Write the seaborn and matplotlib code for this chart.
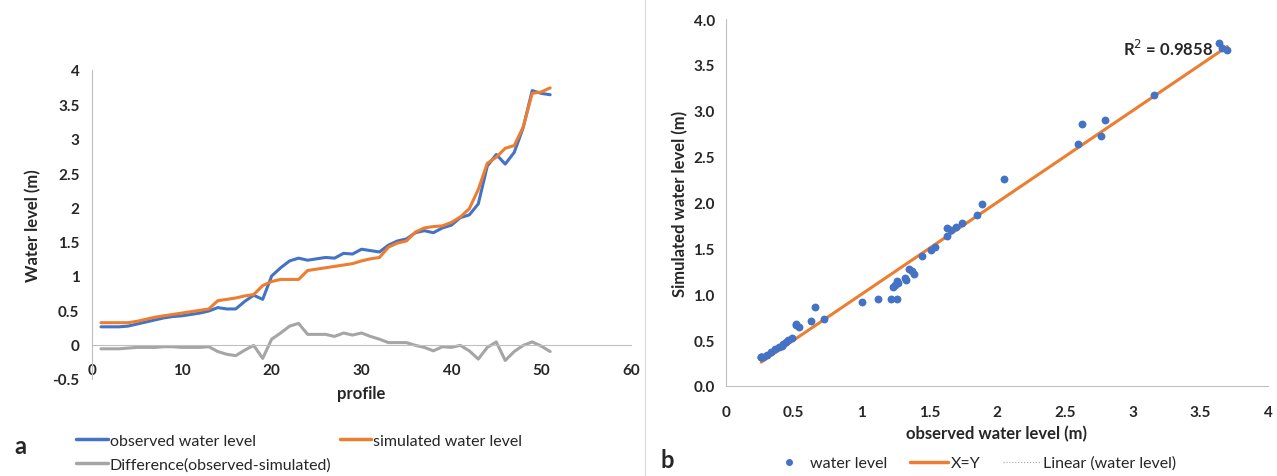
import numpy as np
import pandas as pd
import seaborn as sns
import matplotlib
matplotlib.use("Agg")
import matplotlib.pyplot as plt
from matplotlib.lines import Line2D
from matplotlib.ticker import FuncFormatter, MultipleLocator

# Données (profils 1..51)
profile = list(range(1, 52))
observed = [0.26, 0.26, 0.26, 0.27, 0.30, 0.33, 0.36, 0.39, 0.41, 0.42,
            0.44, 0.46, 0.49, 0.54, 0.52, 0.52, 0.63, 0.72, 0.66, 1.00,
            1.12, 1.22, 1.26, 1.23, 1.25, 1.27, 1.26, 1.33, 1.32, 1.39,
            1.37, 1.35, 1.45, 1.51, 1.54, 1.63, 1.66, 1.63, 1.70, 1.74,
            1.85, 1.89, 2.05, 2.60, 2.77, 2.63, 2.80, 3.16, 3.70, 3.66, 3.64]
simulated = [0.32, 0.32, 0.32, 0.32, 0.34, 0.37, 0.40, 0.42, 0.44, 0.46,
             0.48, 0.50, 0.52, 0.64, 0.66, 0.68, 0.71, 0.73, 0.86, 0.92,
             0.95, 0.95, 0.95, 1.08, 1.10, 1.12, 1.14, 1.16, 1.18, 1.22,
             1.25, 1.27, 1.42, 1.48, 1.51, 1.64, 1.70, 1.72, 1.73, 1.78,
             1.86, 1.98, 2.26, 2.64, 2.73, 2.86, 2.90, 3.17, 3.66, 3.68, 3.74]
r2_label = "R$^2$ = 0.9858"

BLUE = "#4472C4"
ORANGE = "#ED7D31"
GREY = "#A5A5A5"
AXIS = "#BFBFBF"

df = pd.DataFrame({"profile": profile, "observed": observed, "simulated": simulated})
df["difference"] = df["observed"] - df["simulated"]

sns.set_style("white")
plt.rcParams["font.family"] = ["Lato", "DejaVu Sans"]

fig = plt.figure(figsize=(12.77, 4.77), dpi=100)

# ---- panneau a ----
ax1 = fig.add_axes([92 / 1277, 1 - 380 / 477, 539 / 1277, 309 / 477])
sns.lineplot(data=df, x="profile", y="observed", color=BLUE, lw=2.2, ax=ax1)
sns.lineplot(data=df, x="profile", y="simulated", color=ORANGE, lw=2.2, ax=ax1)
sns.lineplot(data=df, x="profile", y="difference", color=GREY, lw=2.2, ax=ax1)
ax1.set_xlim(0, 60)
ax1.set_ylim(-0.5, 4)
ax1.xaxis.set_major_locator(MultipleLocator(10))
ax1.yaxis.set_major_locator(MultipleLocator(0.5))
ax1.yaxis.set_major_formatter(FuncFormatter(lambda v, p: f"{v:g}"))
for s in ["top", "right"]:
    ax1.spines[s].set_visible(False)
ax1.spines["bottom"].set_position(("data", 0))
ax1.spines["bottom"].set_color(AXIS)
ax1.spines["left"].set_color(AXIS)
ax1.tick_params(axis="x", length=0, pad=13, labelsize=11)
ax1.tick_params(axis="y", length=0, pad=9, labelsize=11)
for t in ax1.get_xticklabels() + ax1.get_yticklabels():
    t.set_fontweight("bold")
ax1.set_xlabel("profile", fontsize=12, fontweight="bold", labelpad=6)
ax1.set_ylabel("Water level (m)", fontsize=12, fontweight="bold", labelpad=8)

h1 = [Line2D([], [], color=BLUE, lw=2.5), Line2D([], [], color=GREY, lw=2.5),
      Line2D([], [], color=ORANGE, lw=2.5)]
fig.legend(h1, ["observed water level", "Difference(observed-simulated)", "simulated water level"],
           ncol=2, loc="upper left", bbox_to_anchor=(62 / 1277, 1 - 420 / 477),
           frameon=False, fontsize=11.5, handlelength=2.0, handletextpad=0.1,
           columnspacing=0.5, labelspacing=0.6)
fig.text(14 / 1277, 1 - 447 / 477, "a", fontsize=17, fontweight="bold", va="center")

# ---- panneau b ----
ax2 = fig.add_axes([726 / 1277, 1 - 387 / 477, 542 / 1277, 367 / 477])
sns.scatterplot(data=df, x="observed", y="simulated", color=BLUE, s=32,
                edgecolor=BLUE, linewidth=0, ax=ax2, zorder=3)
line_x = np.sort(df["observed"].values)
sns.lineplot(x=line_x, y=line_x, color=ORANGE, lw=2.2, ax=ax2, zorder=2, sort=False)
slope, inter = np.polyfit(df["observed"], df["simulated"], 1)
ax2.plot(line_x, slope * line_x + inter, color=GREY, lw=0.8, ls=":", zorder=1)
ax2.text(2.93, 3.68, r2_label, fontsize=12, fontweight="bold", va="center", ha="left")
ax2.set_xlim(0, 4)
ax2.set_ylim(0, 4)
ax2.xaxis.set_major_locator(MultipleLocator(0.5))
ax2.yaxis.set_major_locator(MultipleLocator(0.5))
ax2.xaxis.set_major_formatter(FuncFormatter(lambda v, p: f"{v:g}"))
ax2.yaxis.set_major_formatter(FuncFormatter(lambda v, p: f"{v:.1f}"))
for s in ["top", "right"]:
    ax2.spines[s].set_visible(False)
ax2.spines["bottom"].set_color(AXIS)
ax2.spines["left"].set_color(AXIS)
ax2.tick_params(axis="x", length=0, pad=14, labelsize=11)
ax2.tick_params(axis="y", length=0, pad=8, labelsize=11)
for t in ax2.get_xticklabels() + ax2.get_yticklabels():
    t.set_fontweight("bold")
ax2.set_xlabel("observed water level (m)", fontsize=12, fontweight="bold", labelpad=4)
ax2.set_ylabel("Simulated water level (m)", fontsize=12, fontweight="bold", labelpad=4)

h2 = [Line2D([], [], color=BLUE, marker="o", ls="none", markersize=4),
      Line2D([], [], color=ORANGE, lw=2.5),
      Line2D([], [], color=GREY, lw=0.8, ls=":")]
fig.legend(h2, ["water level", "X=Y", "Linear (water level)"], ncol=3,
           loc="center left", bbox_to_anchor=(755 / 1277, 1 - 464 / 477),
           frameon=False, fontsize=11.5, handlelength=2.4, handletextpad=0.15,
           columnspacing=1.4)
fig.text(660 / 1277, 1 - 461 / 477, "b", fontsize=17, fontweight="bold", va="center")

# bordure du panneau b
fig.add_artist(Line2D([645 / 1277, 645 / 1277], [0, 1], color="#D9D9D9", lw=0.8))

fig.savefig("out.png", dpi=100)
